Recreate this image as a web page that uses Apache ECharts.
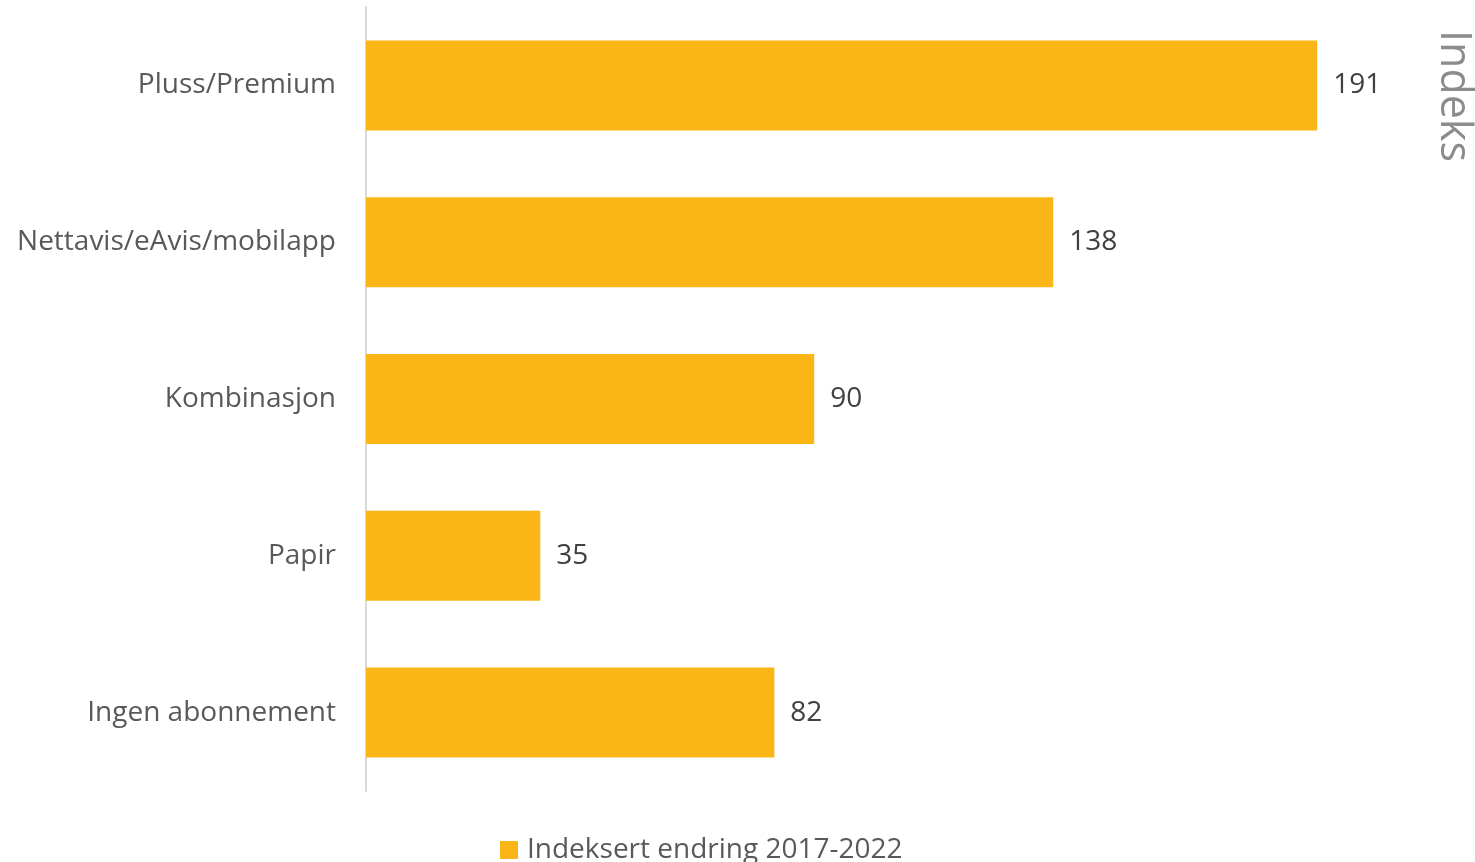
<!DOCTYPE html>
<html>
<head>
<meta charset="utf-8">
<script src="https://cdn.jsdelivr.net/npm/echarts@6/dist/echarts.min.js"></script>
<style>html,body{margin:0;padding:0;background:#fff;}#c{width:1475px;height:862px;}</style>
</head>
<body>
<div id="c"></div>
<script>
const categories = ['Pluss/Premium', 'Nettavis/eAvis/mobilapp', 'Kombinasjon', 'Papir', 'Ingen abonnement'];
const values = [191, 138, 90, 35, 82];
const seriesName = 'Indeksert endring 2017-2022';
const axisTitle = 'Indeks';

const FONT = 'Open Sans';
const chart = echarts.init(document.getElementById('c'));
chart.setOption({
  animation: false,
  textStyle: { fontFamily: FONT },
  grid: { left: 366, top: 7, bottom: 71, width: 996 },
  xAxis: {
    type: 'value', min: 0, max: 200,
    show: false,
    splitLine: { show: false }
  },
  yAxis: {
    type: 'category', inverse: true, data: categories,
    axisLine: { show: true, lineStyle: { color: '#d9d9d9', width: 2 } },
    axisTick: { show: false },
    axisLabel: { color: '#595959', fontSize: 28, fontFamily: FONT, margin: 30, padding: [2, 0, 0, 0] }
  },
  legend: {
    bottom: -7, left: 495,
    itemWidth: 18, itemHeight: 18, itemGap: 10,
    icon: 'rect',
    textStyle: { color: '#595959', fontSize: 28, fontFamily: FONT, padding: [0, 0, 0, 4] },
    data: [seriesName]
  },
  graphic: [{
    type: 'text', left: 1432, top: 30, rotation: -Math.PI / 2,
    style: { text: axisTitle, fill: '#8c8c8c', fontSize: 43, fontFamily: FONT }
  }],
  series: [{
    name: seriesName, type: 'bar', data: values, barWidth: 90,
    itemStyle: { color: '#F9B616' },
    label: { show: true, position: 'right', distance: 16, color: '#404040', fontSize: 28, fontFamily: FONT, padding: [2, 0, 0, 0] }
  }]
});
</script>
</body>
</html>
